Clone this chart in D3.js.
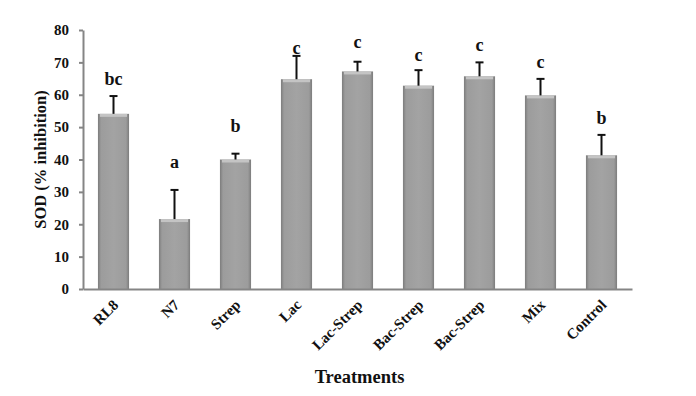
<!DOCTYPE html>
<html>
<head>
<meta charset="utf-8">
<script src="https://cdn.jsdelivr.net/npm/d3@7"></script>
<style>
  body { margin: 0; background: #fff; }
  text { font-family: "Liberation Serif", "Times New Roman", serif; font-weight: bold; }
</style>
</head>
<body>
<div id="chart"></div>
<script>
// values
var treatments = ["RL8", "N7", "Strep", "Lac", "Lac-Strep", "Bac-Strep", "Bac-Strep", "Mix", "Control"];
var sodMean = [54.1, 21.6, 40.0, 64.8, 67.2, 62.8, 65.7, 59.8, 41.3];
var sodErr = [5.5, 9.0, 1.8, 7.2, 3.0, 4.8, 4.3, 5.1, 6.3];
var letters = ["bc", "a", "b", "c", "c", "c", "c", "c", "b"];
var letterLevel = [64.9, 39.2, 50.3, 74.4, 76.3, 72.3, 75.4, 70.1, 52.8];
var yTicks = [0, 10, 20, 30, 40, 50, 60, 70, 80];

var svgWidth = 696;
var svgHeight = 396;

var margin = { top: 30, right: 64, bottom: 107, left: 83 };
var width = svgWidth - margin.left - margin.right;
var height = svgHeight - margin.top - margin.bottom;

var svg = d3.select("#chart")
  .append("svg")
  .attr("width", svgWidth)
  .attr("height", svgHeight);

var defs = svg.append("defs");
var grad = defs.append("linearGradient")
  .attr("id", "barGrad")
  .attr("x1", "0%").attr("x2", "100%")
  .attr("y1", "0%").attr("y2", "0%");
grad.append("stop").attr("offset", "0%").attr("stop-color", "#7c7c7c");
grad.append("stop").attr("offset", "10%").attr("stop-color", "#9c9c9c");
grad.append("stop").attr("offset", "50%").attr("stop-color", "#a3a3a3");
grad.append("stop").attr("offset", "90%").attr("stop-color", "#9c9c9c");
grad.append("stop").attr("offset", "100%").attr("stop-color", "#7c7c7c");

var chartGroup = svg.append("g")
  .attr("transform", `translate(${margin.left}, ${margin.top})`);

var data = treatments.map(function(t, i) {
  return { idx: i, name: t, mean: sodMean[i], err: sodErr[i], letter: letters[i], lvl: letterLevel[i] };
});

var xBand = d3.scaleBand()
  .domain(d3.range(treatments.length))
  .range([0, width])
  .paddingInner(0.49)
  .paddingOuter(0.245);

var yLinearScale = d3.scaleLinear()
  .domain([0, 80])
  .range([height, 0]);

// bars
var bars = chartGroup.selectAll("g.bar")
  .data(data)
  .enter()
  .append("g")
  .classed("bar", true);

bars.append("rect")
  .attr("x", d => xBand(d.idx))
  .attr("y", d => yLinearScale(d.mean))
  .attr("width", xBand.bandwidth())
  .attr("height", d => height - yLinearScale(d.mean))
  .attr("fill", "url(#barGrad)");

// light bevel on top
bars.append("rect")
  .attr("x", d => xBand(d.idx) + 2)
  .attr("y", d => yLinearScale(d.mean))
  .attr("width", xBand.bandwidth() - 4)
  .attr("height", 3)
  .attr("fill", "#c4c4c4");

// error bars (upper only)
bars.append("line")
  .attr("x1", d => xBand(d.idx) + xBand.bandwidth() / 2)
  .attr("x2", d => xBand(d.idx) + xBand.bandwidth() / 2)
  .attr("y1", d => yLinearScale(d.mean))
  .attr("y2", d => yLinearScale(d.mean + d.err))
  .attr("stroke", "#111")
  .attr("stroke-width", 2);

bars.append("line")
  .attr("x1", d => xBand(d.idx) + xBand.bandwidth() / 2 - 4)
  .attr("x2", d => xBand(d.idx) + xBand.bandwidth() / 2 + 4)
  .attr("y1", d => yLinearScale(d.mean + d.err))
  .attr("y2", d => yLinearScale(d.mean + d.err))
  .attr("stroke", "#111")
  .attr("stroke-width", 2);

// significance letters
chartGroup.selectAll("text.letter")
  .data(data)
  .enter()
  .append("text")
  .classed("letter", true)
  .attr("x", d => xBand(d.idx) + xBand.bandwidth() / 2)
  .attr("y", d => yLinearScale(d.lvl))
  .attr("dy", "0.32em")
  .attr("text-anchor", "middle")
  .attr("font-size", "18px")
  .attr("fill", "#111")
  .text(d => d.letter);

// axes
var leftAxis = d3.axisLeft(yLinearScale)
  .tickValues(yTicks)
  .tickSize(4)
  .tickSizeOuter(0)
  .tickPadding(10);

var yAxis = chartGroup.append("g")
  .classed("y-axis", true)
  .call(leftAxis);

yAxis.select(".domain").attr("stroke", "#858585").attr("stroke-width", 2);
yAxis.selectAll(".tick line").attr("stroke", "#858585").attr("stroke-width", 2);
yAxis.selectAll(".tick text")
  .attr("font-size", "15px")
  .attr("fill", "#111")
  .style("font-family", "Liberation Serif, serif")
  .style("font-weight", "bold");

var bottomAxis = d3.axisBottom(xBand)
  .tickSize(0)
  .tickFormat(i => treatments[i]);

var xAxis = chartGroup.append("g")
  .classed("x-axis", true)
  .attr("transform", `translate(0, ${height})`)
  .call(bottomAxis);

xAxis.select(".domain").attr("stroke", "#858585").attr("stroke-width", 2);
xAxis.selectAll(".tick text")
  .attr("font-size", "15px")
  .attr("fill", "#111")
  .style("font-family", "Liberation Serif, serif")
  .style("font-weight", "bold")
  .attr("text-anchor", "end")
  .attr("dy", "0.35em")
  .attr("transform", "translate(0, 11) rotate(-45)");

// axis titles
chartGroup.append("text")
  .attr("transform", "rotate(-90)")
  .attr("x", -(height / 2))
  .attr("y", -43)
  .attr("dy", "0.35em")
  .attr("text-anchor", "middle")
  .attr("font-size", "16.5px")
  .attr("fill", "#111")
  .text("SOD (% inhibition)");

chartGroup.append("text")
  .attr("x", width / 2 + 2)
  .attr("y", height + 94)
  .attr("text-anchor", "middle")
  .attr("font-size", "18.5px")
  .attr("fill", "#111")
  .text("Treatments");
</script>
</body>
</html>
